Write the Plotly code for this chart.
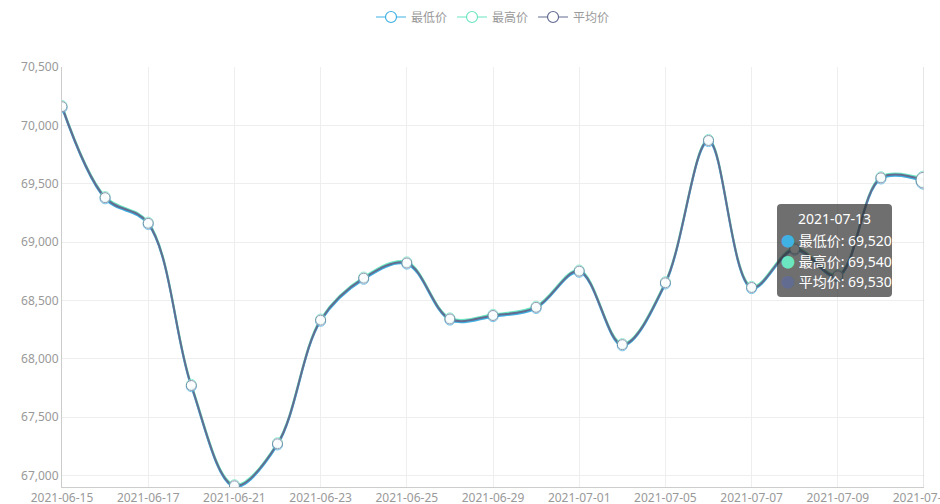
import plotly.graph_objects as go

dates = ["2021-06-15", "2021-06-16", "2021-06-17", "2021-06-18", "2021-06-21", "2021-06-22",
         "2021-06-23", "2021-06-24", "2021-06-25", "2021-06-28", "2021-06-29", "2021-06-30",
         "2021-07-01", "2021-07-02", "2021-07-05", "2021-07-06", "2021-07-07", "2021-07-08",
         "2021-07-09", "2021-07-12", "2021-07-13"]
low_price = [70150, 69370, 69150, 67760, 66900, 67260, 68320, 68680, 68810, 68330, 68360,
             68430, 68740, 68110, 68640, 69860, 68600, 68930, 68700, 69540, 69520]
high_price = [70170, 69390, 69170, 67780, 66920, 67280, 68340, 68700, 68830, 68350, 68380,
              68450, 68760, 68130, 68660, 69880, 68620, 68950, 68720, 69560, 69540]
avg_price = [70160, 69380, 69160, 67770, 66910, 67270, 68330, 68690, 68820, 68340, 68370,
             68440, 68750, 68120, 68650, 69870, 68610, 68940, 68710, 69550, 69530]
y_ticks = [67000, 67500, 68000, 68500, 69000, 69500, 70000, 70500]

names = ["最低价", "最高价", "平均价"]
colors = ["#3fb1e3", "#6be6c1", "#626c91"]
series = [low_price, high_price, avg_price]

FONT = "Noto Sans, Noto Sans CJK SC, sans-serif"
x = list(range(len(dates)))
hover_idx = len(dates) - 1

fig = go.Figure()
# lines
for name, col, vals in zip(names, colors, series):
    fig.add_trace(go.Scatter(
        x=x, y=vals, name=name, mode="lines", showlegend=False,
        line=dict(color=col, width=2, shape="spline", smoothing=1.0),
        hoverinfo="skip",
    ))
# symbols above all lines
for name, col, vals in zip(names, colors, series):
    sizes = [10] * len(vals)
    sizes[hover_idx] = 16
    fig.add_trace(go.Scatter(
        x=x, y=vals, name=name, mode="markers", showlegend=False,
        marker=dict(symbol="circle", size=sizes, color="white",
                    line=dict(color=col, width=1)),
        hoverinfo="skip",
    ))
# legend entries
for name, col in zip(names, colors):
    fig.add_trace(go.Scatter(
        x=[None], y=[None], name=name, mode="lines+markers",
        line=dict(color=col, width=1.2),
        marker=dict(symbol="circle", size=11, color="white", line=dict(color=col, width=1.2)),
        hoverinfo="skip",
    ))

# axis pointer line at hovered category
fig.add_shape(type="line", xref="x", yref="paper", x0=x[hover_idx], x1=x[hover_idx], y0=0, y1=1,
              line=dict(color="#cccccc", width=1), layer="above")

# tooltip imitation
L, T, R, B = 62, 67, 924, 487
def px(p):
    return (p - L) / (R - L)
def py(p):
    return (B - p) / (B - T)

bx0, bx1, by0, by1 = 777, 892, 204, 297
r = 4
path = (f"M {px(bx0 + r)} {py(by0)} L {px(bx1 - r)} {py(by0)} "
        f"Q {px(bx1)} {py(by0)} {px(bx1)} {py(by0 + r)} "
        f"L {px(bx1)} {py(by1 - r)} Q {px(bx1)} {py(by1)} {px(bx1 - r)} {py(by1)} "
        f"L {px(bx0 + r)} {py(by1)} Q {px(bx0)} {py(by1)} {px(bx0)} {py(by1 - r)} "
        f"L {px(bx0)} {py(by0 + r)} Q {px(bx0)} {py(by0)} {px(bx0 + r)} {py(by0)} Z")
fig.add_shape(type="path", xref="paper", yref="paper", path=path,
              fillcolor="rgba(50,50,50,0.7)", line=dict(width=0), layer="above")

fig.add_annotation(xref="paper", yref="paper", x=px((bx0 + bx1) / 2), y=py(218),
                   text=dates[hover_idx], showarrow=False, xanchor="center", yanchor="middle",
                   font=dict(family=FONT, size=14, color="#ffffff"))
row_y = [240, 261, 281]
for name, col, vals, ry in zip(names, colors, series, row_y):
    fig.add_annotation(xref="paper", yref="paper", x=px(779), y=py(ry),
                       text=f"<span style='color:{col}'>●</span> {name}: {vals[hover_idx]:,}",
                       showarrow=False, xanchor="left", yanchor="middle",
                       font=dict(family=FONT, size=14, color="#ffffff"))

fig.update_layout(
    width=940, height=504,
    margin=dict(l=L, r=940 - R, t=T, b=504 - B, autoexpand=False),
    paper_bgcolor="white", plot_bgcolor="white",
    font=dict(family=FONT, size=12, color="#999999"),
    showlegend=True,
    legend=dict(orientation="h", x=0.5, xanchor="center", y=0.995, yref="container",
                yanchor="top", font=dict(size=12, color="#999999"),
                itemwidth=30, tracegroupgap=0),
    xaxis=dict(range=[0, len(dates) - 1], tickvals=x[::2], ticktext=dates[::2],
               showgrid=True, gridcolor="#eeeeee", gridwidth=1,
               showline=True, linecolor="#cccccc", linewidth=1,
               ticks="", zeroline=False, tickfont=dict(size=12, color="#999999"),
               ticklabeloverflow="allow", automargin=False, fixedrange=True),
    yaxis=dict(range=[66900, 70500], tickvals=y_ticks, tickformat=",d",
               showgrid=True, gridcolor="#eeeeee", gridwidth=1,
               showline=True, linecolor="#cccccc", linewidth=1,
               ticks="", zeroline=False, tickfont=dict(size=12, color="#999999"),
               automargin=False, fixedrange=True),
)

fig.write_html("out.html", config={"displayModeBar": False},
               post_script="document.body.style.margin='0';document.body.style.overflow='hidden';")
